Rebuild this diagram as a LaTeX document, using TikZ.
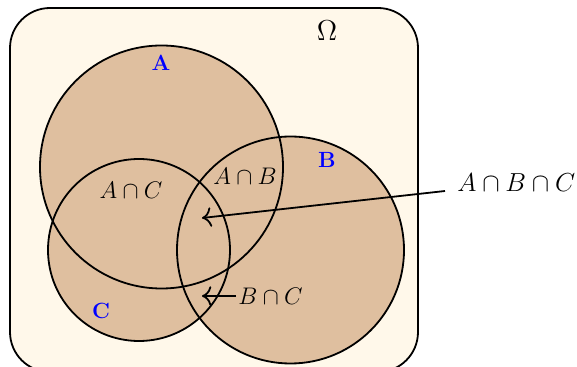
\documentclass[tikz,border=0pt]{standalone}
\usepackage{amsmath}
\usetikzlibrary{arrows.meta}
\definecolor{bgc}{RGB}{255,248,234}
\definecolor{setc}{RGB}{223,191,159}
\begin{document}
\begin{tikzpicture}[x=0.5pt,y=-0.5pt,
  setline/.style={line width=0.9pt},
  setlabel/.style={text=blue,font=\fontsize{11}{13}\selectfont\bfseries},
  cutlabel/.style={font=\fontsize{11.5}{14}\selectfont},
  pointer/.style={line width=0.9pt,-{To[scale=1.3]}}]
\useasboundingbox (0,0) rectangle (577,367);
\begin{scope}
\clip (0,0) rectangle (577,367);
\draw[setline,fill=bgc,rounded corners=20pt] (10,8) rectangle (418,372);
\end{scope}
% fills
\fill[setc] (161.5,167) circle [radius=60.75pt];
\fill[setc] (290.5,250) circle [radius=56.75pt];
\fill[setc] (139,250) circle [radius=45.5pt];
% outlines
\draw[setline] (161.5,167) circle [radius=60.75pt];
\draw[setline] (290.5,250) circle [radius=56.75pt];
\draw[setline] (139,250) circle [radius=45.5pt];
% labels
\node[setlabel] (la) at (161,63) {A};
\node[setlabel] (lb) at (327,160) {B};
\node[setlabel] (lc) at (101,311) {C};
\node[font=\fontsize{13.5}{16}\selectfont] (om) at (327,31) {$\Omega$};
\node[cutlabel] (ac) at (131,190) {$A\cap C$};
\node[cutlabel] (ab) at (245,176) {$A\cap B$};
\node[cutlabel,anchor=west,inner sep=0pt] (bc) at (238,296) {$B\cap C$};
\node[font=\large,scale=1.085,anchor=west,inner sep=0pt] (abc) at (457,183) {$A\cap B\cap C$};
\coordinate (s) at (445,191);
\coordinate (bcs) at (236,296);
\coordinate (pabc) at (202,218);
\coordinate (pbc) at (202,296);
\draw[pointer] (s) -- (pabc);
\draw[pointer] (bcs) -- (pbc);
\end{tikzpicture}
\end{document}
